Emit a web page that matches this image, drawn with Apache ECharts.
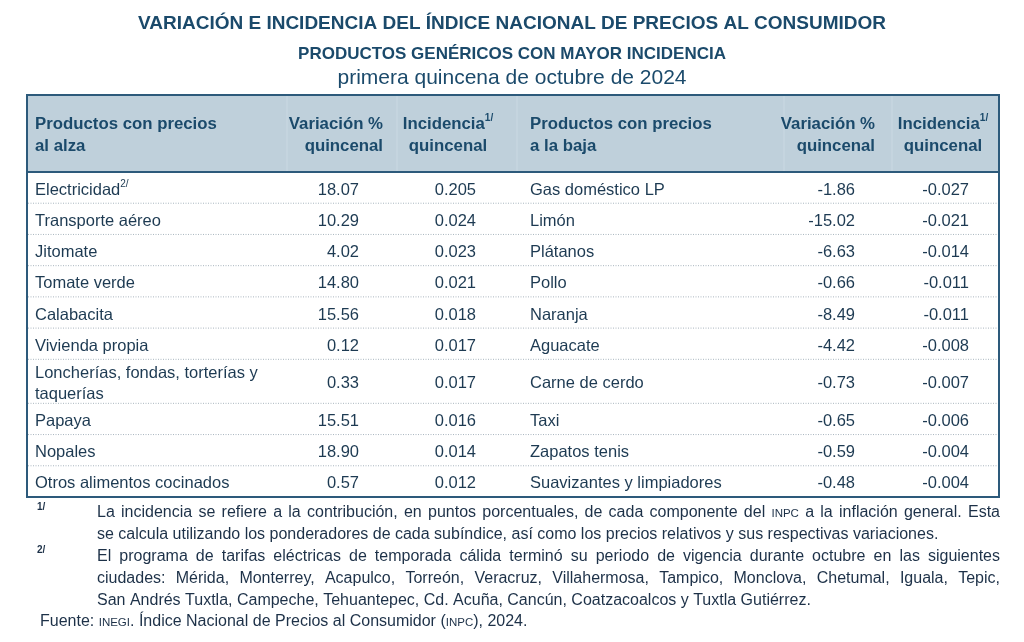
<!DOCTYPE html>
<html><head><meta charset="utf-8">
<script src="https://cdn.jsdelivr.net/npm/echarts@6/dist/echarts.min.js"></script>
<style>html,body{margin:0;padding:0;background:#fff}#c{width:1024px;height:642px}</style>
</head><body><div id="c"></div>
<script>
// ---------- data ----------
const titleLines = [
  'VARIACIÓN E INCIDENCIA DEL ÍNDICE NACIONAL DE PRECIOS AL CONSUMIDOR',
  'PRODUCTOS GENÉRICOS CON MAYOR INCIDENCIA',
  'primera quincena de octubre de 2024'
];
const headers = ['Productos con precios\nal alza', 'Variación %\nquincenal', 'Incidencia\nquincenal',
                 'Productos con precios\na la baja', 'Variación %\nquincenal', 'Incidencia\nquincenal'];
const headerNotes = ['', '', '1/', '', '', '1/'];
const upNames = ['Electricidad', 'Transporte aéreo', 'Jitomate', 'Tomate verde', 'Calabacita', 'Vivienda propia',
                 'Loncherías, fondas, torterías y\ntaquerías', 'Papaya', 'Nopales', 'Otros alimentos cocinados'];
const upNotes = ['2/', '', '', '', '', '', '', '', '', ''];
const upVariation = [18.07, 10.29, 4.02, 14.80, 15.56, 0.12, 0.33, 15.51, 18.90, 0.57];
const upIncidence = [0.205, 0.024, 0.023, 0.021, 0.018, 0.017, 0.017, 0.016, 0.014, 0.012];
const downNames = ['Gas doméstico LP', 'Limón', 'Plátanos', 'Pollo', 'Naranja', 'Aguacate', 'Carne de cerdo',
                   'Taxi', 'Zapatos tenis', 'Suavizantes y limpiadores'];
const downVariation = [-1.86, -15.02, -6.63, -0.66, -8.49, -4.42, -0.73, -0.65, -0.59, -0.48];
const downIncidence = [-0.027, -0.021, -0.014, -0.011, -0.011, -0.008, -0.007, -0.006, -0.004, -0.004];
const footnoteMarks = ['1/', '', '2/', '', '', ''];
const footnoteLines = [
  'La incidencia se refiere a la contribución, en puntos porcentuales, de cada componente del INPC a la inflación general. Esta',
  'se calcula utilizando los ponderadores de cada subíndice, así como los precios relativos y sus respectivas variaciones.',
  'El programa de tarifas eléctricas de temporada cálida terminó su periodo de vigencia durante octubre en las siguientes',
  'ciudades: Mérida, Monterrey, Acapulco, Torreón, Veracruz, Villahermosa, Tampico, Monclova, Chetumal, Iguala, Tepic,',
  'San Andrés Tuxtla, Campeche, Tehuantepec, Cd. Acuña, Cancún, Coatzacoalcos y Tuxtla Gutiérrez.',
  'Fuente: INEGI. Índice Nacional de Precios al Consumidor (INPC), 2024.'
];
const footnoteJustify = [true, false, true, true, false, false];

// ---------- layout & style ----------
const FF = '"Liberation Sans", Arial, sans-serif';
const TITLE_C = '#1b4a6b', HEAD_C = '#1b4a6b', BODY_C = '#1d3a52', NOTE_C = '#1d3148';
const TL = 27, TR = 999, TT = 95, HB = 172, TB = 497;
const COLX = { upName: 35, upVar: 359, upInc: 476, downName: 530, downVar: 855, downInc: 969 };
const HEADX = [35, 383, 448, 530, 875, 943];
const HEADALIGN = ['left', 'right', 'center', 'left', 'right', 'center'];
const TEXT_DY = 2.5;

const rowLines = upNames.map((n, i) => Math.max(n.split('\n').length, downNames[i].split('\n').length));
const rowH = rowLines.map(l => 1 + 0.41 * (l - 1));
const rowStart = [];
let acc = 0;
rowH.forEach(h => { rowStart.push(acc); acc += h; });
const totalUnits = acc;

const chart = echarts.init(document.getElementById('c'), null, { renderer: 'canvas' });

// measuring for footnote justification
const mctx = document.createElement('canvas').getContext('2d');
function measure(str, size, weight) {
  mctx.font = (weight || 'normal') + ' ' + size + 'px "Liberation Sans"';
  return mctx.measureText(str).width;
}
const NOTE_FS = 16, SMALL_FS = 11.5;
function wordRuns(w) {
  return w.split(/(INPC|INEGI)/).filter(s => s.length).map(s => ({ t: s, small: (s === 'INPC' || s === 'INEGI') }));
}
function runsWidth(runs) {
  return runs.reduce((a, r) => a + measure(r.t, r.small ? SMALL_FS : NOTE_FS), 0);
}

const graphics = [];
// titles
const titleStyles = [
  { y: 24, fontSize: 19, fontWeight: 'bold' },
  { y: 54.5, fontSize: 17, fontWeight: 'bold' },
  { y: 78, fontSize: 21, fontWeight: 'normal' }
];
titleLines.forEach((t, i) => {
  graphics.push({ type: 'text', z: 10, style: { text: t, x: 512, y: titleStyles[i].y, align: 'center', verticalAlign: 'middle',
    fontSize: titleStyles[i].fontSize, fontWeight: titleStyles[i].fontWeight, fontFamily: FF, fill: TITLE_C } });
});
// header background
graphics.push({ type: 'rect', z: 1, shape: { x: TL, y: TT, width: TR - TL, height: HB - TT }, style: { fill: '#bfd0db' } });
[287, 397, 517, 784, 892].forEach(x => {
  graphics.push({ type: 'line', z: 2, shape: { x1: x, y1: TT, x2: x, y2: HB }, style: { stroke: '#cad9e3', lineWidth: 1 } });
});
// header texts
headers.forEach((h, i) => {
  const lines = h.split('\n');
  let txt = lines.map((l, k) => (k === 0 && headerNotes[i]) ? `{h|${l}}{s|${headerNotes[i]}}` : `{h|${l}}`).join('\n');
  graphics.push({ type: 'text', z: 10, style: { text: txt, x: HEADX[i], y: 135, align: HEADALIGN[i], verticalAlign: 'middle',
    fontFamily: FF, fill: HEAD_C,
    rich: { h: { fontSize: 16.8, fontWeight: 'bold', fontFamily: FF, fill: HEAD_C, lineHeight: 22 },
            s: { fontSize: 10, fontWeight: 'bold', fontFamily: FF, fill: HEAD_C, lineHeight: 12, verticalAlign: 'top' } } } });
});
// frame
graphics.push({ type: 'line', z: 20, shape: { x1: TL, y1: HB, x2: TR, y2: HB }, style: { stroke: '#2d5a7b', lineWidth: 2 } });
graphics.push({ type: 'rect', z: 20, shape: { x: TL, y: TT, width: TR - TL, height: TB - TT }, style: { fill: null, stroke: '#2d5a7b', lineWidth: 2 } });

// footnotes
const NOTE_L = 97, NOTE_R = 1000;
footnoteLines.forEach((line, li) => {
  const yc = 513 + 21.8 * li;
  const startX = li === 5 ? 40 : NOTE_L;
  const words = line.split(' ').map(w => { const r = wordRuns(w); return { runs: r, w: runsWidth(r) }; });
  const sumW = words.reduce((a, w) => a + w.w, 0);
  const gap = footnoteJustify[li] ? (NOTE_R - startX - sumW) / (words.length - 1) : measure(' ', NOTE_FS);
  let x = startX;
  words.forEach(w => {
    w.runs.forEach(r => {
      const fs = r.small ? SMALL_FS : NOTE_FS;
      graphics.push({ type: 'text', z: 10, style: { text: r.t, x: x, y: yc + (r.small ? 0.8 : 0), align: 'left', verticalAlign: 'middle',
        fontSize: fs, fontFamily: FF, fill: NOTE_C } });
      x += measure(r.t, fs);
    });
    x += gap;
  });
  if (footnoteMarks[li]) {
    graphics.push({ type: 'text', z: 10, style: { text: footnoteMarks[li], x: 37, y: yc - 6, align: 'left', verticalAlign: 'middle',
      fontSize: 10, fontWeight: 'bold', fontFamily: FF, fill: NOTE_C } });
  }
});

const BODY_FS = 16.5;
function cellText(text, x, y, align) {
  return { type: 'text', style: { text: text, x: x, y: y, align: align, verticalAlign: 'middle', fontSize: BODY_FS,
    fontFamily: FF, fill: BODY_C, lineHeight: 21 } };
}

const option = {
  animation: false,
  grid: { left: TL, right: 1024 - TR, top: HB, bottom: 642 - TB, containLabel: false },
  xAxis: { type: 'value', min: TL, max: TR, show: false },
  yAxis: { type: 'value', min: 0, max: totalUnits, inverse: true, show: false },
  graphic: graphics,
  series: [{
    type: 'custom',
    coordinateSystem: 'cartesian2d',
    encode: { x: 0, y: 1 },
    data: upNames.map((_, i) => [TL, rowStart[i] + rowH[i] / 2, i]),
    renderItem: function (params, api) {
      const i = api.value(2);
      const top = api.coord([TL, rowStart[i]])[1];
      const bot = api.coord([TL, rowStart[i] + rowH[i]])[1];
      const yc = (top + bot) / 2 + TEXT_DY;
      const X = v => api.coord([v, rowStart[i]])[0];
      const children = [];
      if (upNotes[i]) {
        children.push({ type: 'text', style: { text: `{n|${upNames[i]}}{s|${upNotes[i]}}`, x: X(COLX.upName), y: yc,
          align: 'left', verticalAlign: 'middle', fontFamily: FF, fill: BODY_C,
          rich: { n: { fontSize: BODY_FS, fontFamily: FF, fill: BODY_C, lineHeight: 21 },
                  s: { fontSize: 10, fontFamily: FF, fill: BODY_C, lineHeight: 12, verticalAlign: 'top' } } } });
      } else {
        children.push(cellText(upNames[i], X(COLX.upName), yc, 'left'));
      }
      children.push(cellText(upVariation[i].toFixed(2), X(COLX.upVar), yc, 'right'));
      children.push(cellText(upIncidence[i].toFixed(3), X(COLX.upInc), yc, 'right'));
      children.push(cellText(downNames[i], X(COLX.downName), yc, 'left'));
      children.push(cellText(downVariation[i].toFixed(2), X(COLX.downVar), yc, 'right'));
      children.push(cellText(downIncidence[i].toFixed(3), X(COLX.downInc), yc, 'right'));
      if (i < upNames.length - 1) {
        children.push({ type: 'line', shape: { x1: X(TL + 1), y1: bot, x2: X(TR - 1), y2: bot },
          style: { stroke: '#aab6bf', lineWidth: 1, lineDash: [1, 1.5] } });
      }
      return { type: 'group', children: children };
    }
  }]
};
chart.setOption(option);
</script>
</body></html>
